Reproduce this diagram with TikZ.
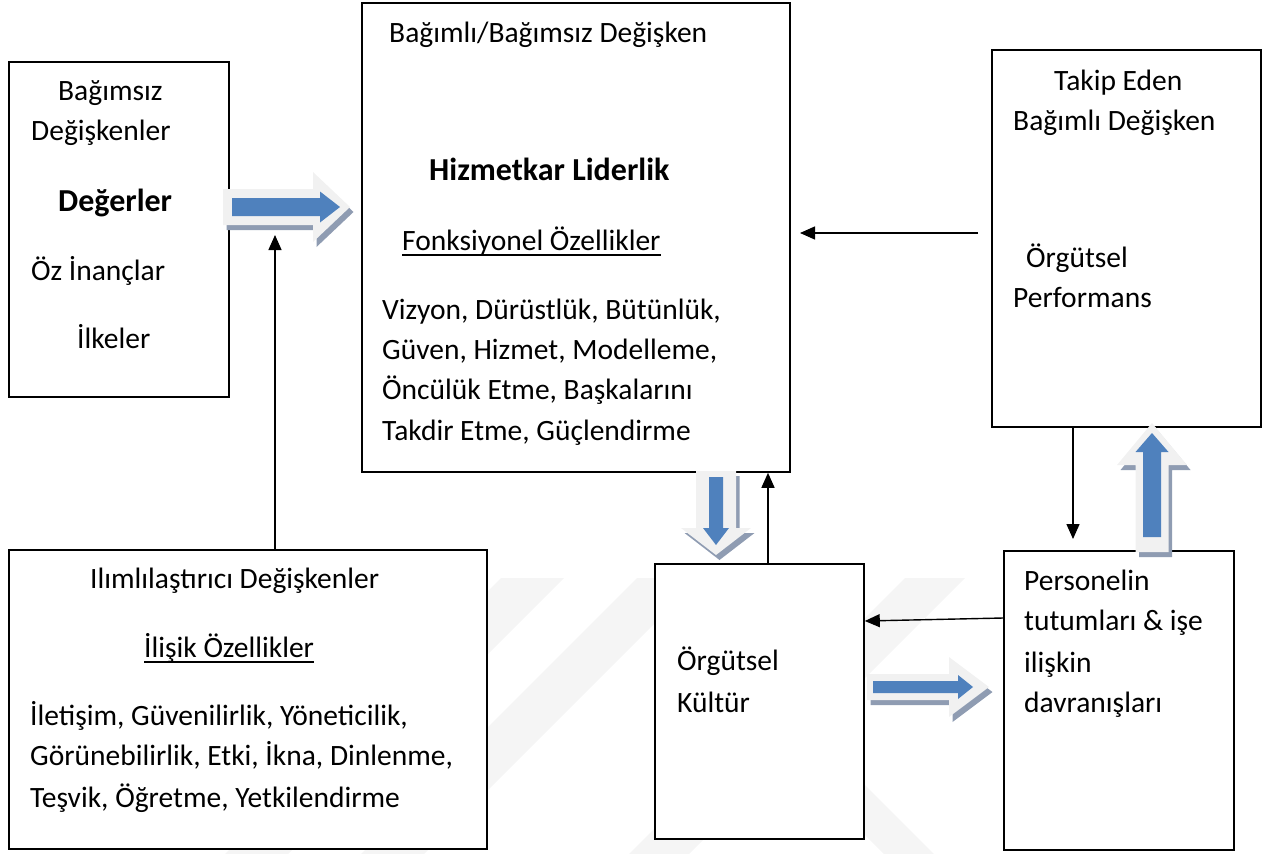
\documentclass[tikz,border=0pt]{standalone}
\usepackage{fontspec}
\setmainfont{Carlito}
\usetikzlibrary{arrows.meta}

\definecolor{arrowblue}{RGB}{79,129,189}
\definecolor{arrowlight}{RGB}{241,241,241}
\definecolor{arrowshade}{RGB}{143,156,178}
\definecolor{markgray}{RGB}{245,245,245}

% keys of a shadowed block arrow
\pgfkeys{/barrow/.is family, /barrow,
  x/.store in=\baX, y/.store in=\baY, angle/.store in=\baAngle,
  len/.store in=\baLen, sw/.store in=\baSw, hw/.store in=\baHw, hl/.store in=\baHl,
  bs/.store in=\baBs, bsw/.store in=\baBsw, bhw/.store in=\baBhw,
  bhl/.store in=\baBhl, bt/.store in=\baBt}

\newcommand\arrowoutline[4]{% length, shaft half width, head half width, head length
  (0,-#2) -- ({#1-#4},-#2) -- ({#1-#4},-#3) -- (#1,0) -- ({#1-#4},#3) -- ({#1-#4},#2) -- (0,#2) -- cycle}

\newcommand\blockarrow[1]{%
  \pgfkeys{/barrow/.cd,angle=0,bs=6,bt=10,bhl=18,#1}%
  \begin{scope}[shift={(\baX+3.5,\baY+5)},rotate=\baAngle]
    \fill[arrowshade] \arrowoutline{\baLen}{\baSw}{\baHw}{\baHl};
  \end{scope}
  \begin{scope}[shift={(\baX,\baY)},rotate=\baAngle]
    \fill[arrowlight] \arrowoutline{\baLen}{\baSw}{\baHw}{\baHl};
    \begin{scope}[xshift=\baBs]
      \fill[arrowblue] \arrowoutline{\baLen-\baBs-\baBt}{\baBsw}{\baBhw}{\baBhl};
    \end{scope}
  \end{scope}}

\tikzset{
  box/.style={draw=black, line width=1.6pt, fill=white, inner sep=0pt},
  conn/.style={draw=black, line width=1.4pt, -{Triangle[length=15pt,width=13pt]}},
  lbl/.style={anchor=base west, inner sep=0pt, font=\fontsize{29.5}{35}\selectfont},
  lblbold/.style={lbl, font=\fontsize{32}{38}\selectfont\bfseries},
  uline/.style={line width=1.3pt},
}

\begin{document}
\begin{tikzpicture}[x=1pt, y={(0pt,-1pt)}]
\useasboundingbox (0,0) rectangle (1277,854);

% faint background mark
\fill[markgray] (501,578) -- (564,578) -- (288,854) -- (225,854) -- cycle;
\fill[markgray] (637,578) -- (700,578) -- (424,854) -- (361,854) -- cycle;
\fill[markgray] (905,578) -- (965,578) -- (689,854) -- (629,854) -- cycle;
\fill[markgray] (670,640) -- (720,640) -- (934,854) -- (884,854) -- cycle;

% boxes
\node[box, minimum width=220pt, minimum height=335pt] (vals)  at (119,229.5) {};
\node[box, minimum width=428pt, minimum height=469pt] (lead)  at (576,237.5) {};
\node[box, minimum width=269pt, minimum height=377pt] (perf)  at (1126.5,238.5) {};
\node[box, minimum width=478pt, minimum height=299pt] (mod)   at (248,699.5) {};
\node[box, minimum width=209pt, minimum height=275pt] (cult)  at (759.5,701.5) {};
\node[box, minimum width=230pt, minimum height=299pt] (staff) at (1119,700.5) {};

% independent variables
\node[lbl] (v1) at (58,100) {Bağımsız};
\node[lbl] (v2) at (31,140) {Değişkenler};
\node[lblbold] (v3) at (58,211) {Değerler};
\node[lbl] (v4) at (31,280) {Öz İnançlar};
\node[lbl] (v5) at (77,348) {İlkeler};

% servant leadership
\node[lbl] (l1) at (389,42) {Bağımlı/Bağımsız Değişken};
\node[lblbold] (l2) at (429,180) {Hizmetkar Liderlik};
\node[lbl] (l3) at (402,250) {Fonksiyonel Özellikler};
\draw[uline] ([yshift=-5pt]l3.base west) -- ([yshift=-5pt]l3.base east);
\node[lbl] (l4) at (382,319) {Vizyon, Dürüstlük, Bütünlük,};
\node[lbl] (l5) at (382,359) {Güven, Hizmet, Modelleme,};
\node[lbl] (l6) at (382,399) {Öncülük Etme, Başkalarını};
\node[lbl] (l7) at (382,440) {Takdir Etme, Güçlendirme};

% organisational performance
\node[lbl] (p1) at (1054,90) {Takip Eden};
\node[lbl] (p2) at (1013,130) {Bağımlı Değişken};
\node[lbl] (p3) at (1026,267) {Örgütsel};
\node[lbl] (p4) at (1013,307) {Performans};

% moderating variables
\node[lbl] (m1) at (90,588) {Ilımlılaştırıcı Değişkenler};
\node[lbl] (m2) at (144,657) {İlişik Özellikler};
\draw[uline] ([yshift=-5pt]m2.base west) -- ([yshift=-5pt]m2.base east);
\node[lbl] (m3) at (30,725) {İletişim, Güvenilirlik, Yöneticilik,};
\node[lbl] (m4) at (30,765) {Görünebilirlik, Etki, İkna, Dinlenme,};
\node[lbl] (m5) at (30,807) {Teşvik, Öğretme, Yetkilendirme};

% organisational culture
\node[lbl] (c1) at (677,670) {Örgütsel};
\node[lbl] (c2) at (677,712) {Kültür};

% staff attitudes
\node[lbl] (s1) at (1024,590) {Personelin};
\node[lbl] (s2) at (1024,630) {tutumları \& işe};
\node[lbl] (s3) at (1024,672) {ilişkin};
\node[lbl] (s4) at (1024,712) {davranışları};

% thin connectors
\coordinate (modtip) at (275,235);
\draw[conn] (mod.north -| modtip) -- (modtip);
\coordinate (perfout) at (978,233);
\coordinate (leadin) at (800,233);
\draw[conn] (perfout) -- (leadin);
\coordinate (perfdown) at (1073,539);
\draw[conn] (perf.south -| perfdown) -- (perfdown);
\coordinate (cultup) at (768,0);
\draw[conn] (cult.north -| cultup) -- (lead.south -| cultup);
\coordinate (staffout) at (0,618);
\coordinate (cultin) at (0,621);
\draw[conn] (staff.west |- staffout) -- (cult.east |- cultin);

% shadowed block arrows
\blockarrow{x=223,y=207,len=127,sw=18,hw=35,hl=37,bs=9,bsw=9,bhw=15.5,bhl=20,bt=10}
\blockarrow{x=716,y=471,angle=-90,len=84,sw=20,hw=35,hl=27,bs=6,bsw=7,bhw=13,bhl=17,bt=10}
\blockarrow{x=1152,y=552,angle=90,len=129,sw=16.5,hw=35,hl=42,bs=15,bsw=9,bhw=16.5,bhl=19,bt=10}
\blockarrow{x=867,y=687,len=122,sw=13,hw=30,hl=40,bs=6,bsw=6,bhw=12,bhl=15,bt=16}
\end{tikzpicture}
\end{document}
